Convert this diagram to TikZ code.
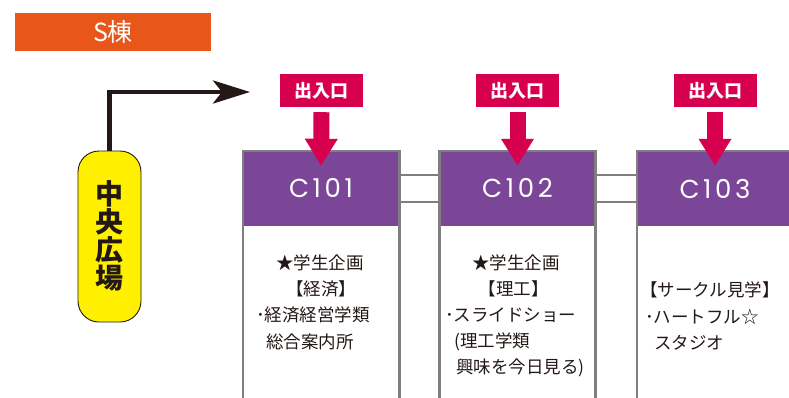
\documentclass[tikz,border=0pt]{standalone}
\usepackage{fontspec}
\setmainfont{Noto Sans CJK JP}
\newfontfamily\roomfont{Poppins}
\usetikzlibrary{arrows.meta,shapes.misc}
\definecolor{sorange}{HTML}{E8561A}
\definecolor{rpurple}{HTML}{7B4697}
\definecolor{ecrimson}{HTML}{D7004F}
\definecolor{pyellow}{HTML}{FFF000}
\definecolor{dark}{HTML}{231815}
\definecolor{wallgray}{HTML}{7F7F7F}
\tikzset{
  orangebox/.style={fill=sorange, text=white, minimum width=196pt, minimum height=38pt, inner sep=0pt, font=\fontsize{25}{27}\selectfont},
  capsule/.style={fill=pyellow, draw=dark, line width=0.9pt, rounded corners=21pt, minimum width=63pt, minimum height=171pt, inner sep=0pt},
  plazatext/.style={text=dark, align=center, inner sep=0pt, font=\bfseries\fontsize{28}{28}\selectfont},
  roomhead/.style={fill=rpurple, text=white, minimum width=156pt, minimum height=75pt, inner sep=0pt, font=\roomfont\addfontfeatures{LetterSpace=14}\fontsize{26}{28}\selectfont},
  roomwall/.style={draw=wallgray, line width=2.6pt},
  conn/.style={draw=wallgray, line width=2.6pt},
  entbox/.style={fill=ecrimson, text=white, minimum width=83pt, minimum height=33pt, inner sep=0pt, font=\bfseries\fontsize{18}{20}\selectfont},
  entarrow/.style={draw=ecrimson, line width=16pt, -{Triangle[length=27pt,width=31pt]}},
  mainarrow/.style={draw=dark, line width=4.6pt, line join=miter, -{Stealth[length=37pt,width=23pt,inset=9pt]}},
  body/.style={text=dark, inner sep=0pt, font=\fontsize{17.5}{20}\selectfont},
}
\begin{document}
\begin{tikzpicture}[x=1pt,y=-1pt]
\useasboundingbox (0,0) rectangle (789,397);
\clip (0,0) rectangle (789,397);
% title
\node[orangebox] (sbldg) at (113,32) {S棟};
% plaza
\node[capsule] (plaza) at (109.5,236.5) {};
\node[plazatext] (plazalbl) at (109.5,236) {中\\央\\広\\場};
\coordinate (arrowend) at (250,92);
\draw[mainarrow] (plaza.north) -- (plaza.north |- arrowend) -- (arrowend);
% rooms
\node[roomhead] (c101) at (321,188.5) {C101};
\node[roomhead] (c102) at (517.5,188.5) {C102};
\node[roomhead] (c103) at (715,188.5) {C103};
\foreach \r in {c101,c102,c103}{
  \draw[roomwall] (\r.west |- 0,420) -- (\r.north west) -- (\r.north east) -- (\r.east |- 0,420);
}
\draw[conn] (c101.east |- 0,175) -- (c102.west |- 0,175);
\draw[conn] (c101.east |- 0,202) -- (c102.west |- 0,202);
\draw[conn] (c102.east |- 0,175) -- (c103.west |- 0,175);
\draw[conn] (c102.east |- 0,202) -- (c103.west |- 0,202);
% entrances
\node[entbox] (e1) at (321.5,90.5) {出入口};
\node[entbox] (e2) at (517.5,90.5) {出入口};
\node[entbox] (e3) at (715,90.5) {出入口};
\draw[entarrow] ([yshift=-5pt]e1.south) -- ([yshift=-15pt]c101.north);
\draw[entarrow] ([yshift=-5pt]e2.south) -- ([yshift=-15pt]c102.north);
\draw[entarrow] ([yshift=-5pt]e3.south) -- ([yshift=-15pt]c103.north);
% room texts
\node[body] (t1a) at (320,263) {★学生企画};
\node[body] (t1b) at (321,289) {【経済】};
\node[body, anchor=west] (t1c) at (256,315) {･経済経営学類};
\node[body, anchor=west] (t1d) at (266,342) {総合案内所};
\node[body] (t2a) at (516,263) {★学生企画};
\node[body] (t2b) at (513.5,289) {【理工】};
\node[body, anchor=west] (t2c) at (445,315) {･スライドショー};
\node[body, anchor=west] (t2d) at (454,342) {(理工学類};
\node[body, anchor=west] (t2e) at (456,368) {興味を今日見る)};
\node[body, anchor=west] (t3a) at (640,290) {【サークル見学】};
\node[body, anchor=west] (t3b) at (645,317) {･ハートフル☆};
\node[body, anchor=west] (t3c) at (654,343) {スタジオ};
\end{tikzpicture}
\end{document}
